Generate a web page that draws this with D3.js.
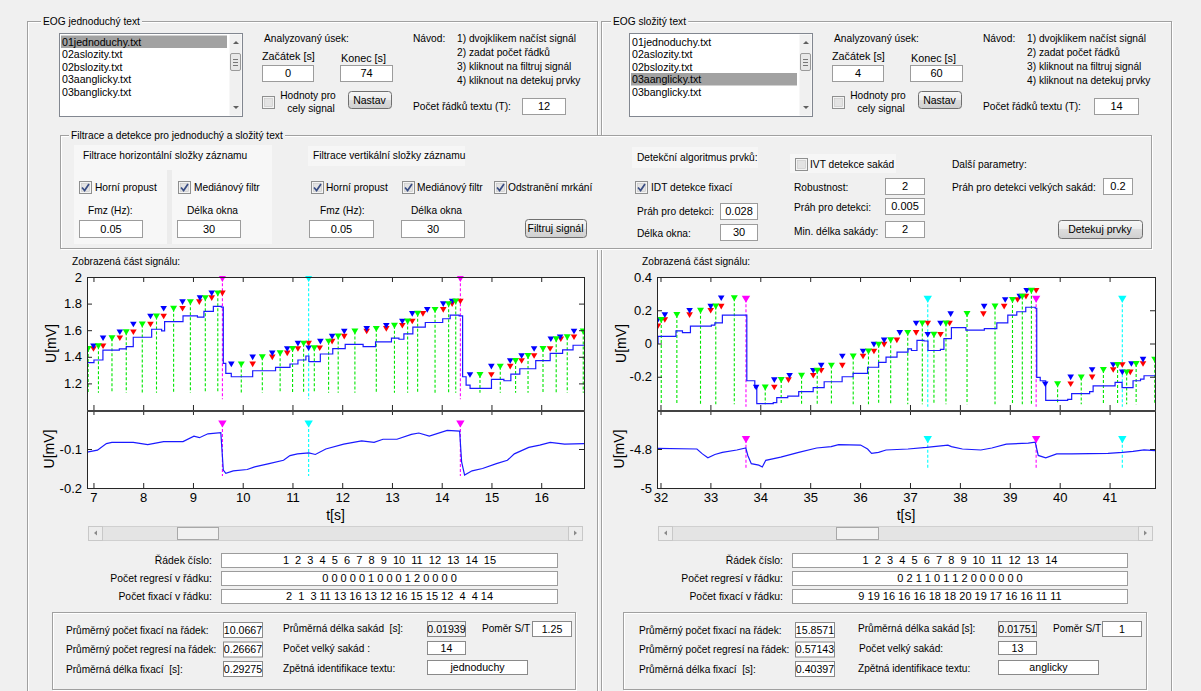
<!DOCTYPE html>
<html><head><meta charset="utf-8">
<script src="https://cdn.jsdelivr.net/npm/d3@7/dist/d3.min.js"></script>
<style>
body{margin:0;background:#f0f0f0;overflow:hidden;}
svg text{font-family:"Liberation Sans",Arial,sans-serif;}
</style></head><body>
<svg id="c" width="1201" height="691"></svg>
<script>
// ================= DATA =================
const listItems = ["01jednoduchy.txt","02aslozity.txt","02bslozity.txt","03aanglicky.txt","03banglicky.txt"];
const leftSelected = 0, rightSelected = 3;
const leftStartEnd = ["0","74"], rightStartEnd = ["4","60"];
const leftLinesT = "12", rightLinesT = "14";
const navodSteps = ["1) dvojklikem načíst signál","2) zadat počet řádků","3) kliknout na filtruj signál","4) kliknout na detekuj prvky"];
const filterValues = {hFmz:"0.05", hWin:"30", vFmz:"0.05", vWin:"30"};
const idtValues = ["0.028","30"];
const ivtValues = ["2","0.005","2"];
const bigSaccadeThr = "0.2";

const leftWindow = [6.87, 16.86];
const rightWindow = [31.93, 41.91];
const leftXTicks = [7,8,9,10,11,12,13,14,15,16];
const rightXTicks = [32,33,34,35,36,37,38,39,40,41];
const leftHDomain = [1, 2];
const leftHTicks = [1.2,1.4,1.6,1.8,2];
const leftHLabels = ["1.2","1.4","1.6","1.8","2"];
const leftVDomain = [-0.2, 0];
const leftVTicks = [-0.2,-0.1];
const leftVLabels = ["-0.2","-0.1"];
const rightHDomain = [-0.4, 0.4];
const rightHTicks = [-0.2,0,0.2,0.4];
const rightHLabels = ["-0.2","0","0.2","0.4"];
const rightVDomain = [-5, -4.6];
const rightVTicks = [-5,-4.8];
const rightVLabels = ["-5","-4.8"];

// horizontal EOG component (step signal) [t, mV]
const leftHSignal = [[6.87,1.356],[7.01,1.376],[7.19,1.45],[7.52,1.46],[7.66,1.477],[7.80,1.547],[8.17,1.607],[8.37,1.595],[8.43,1.665],[8.80,1.708],[9.09,1.698],[9.22,1.741],[9.41,1.779],[9.57,1.774],[9.61,1.351],[9.66,1.275],[9.77,1.25],[10.20,1.295],[10.66,1.321],[10.95,1.346],[11.11,1.376],[11.27,1.406],[11.33,1.364],[11.56,1.421],[11.81,1.462],[12.06,1.494],[12.42,1.477],[12.67,1.512],[12.99,1.54],[13.14,1.532],[13.24,1.572],[13.42,1.623],[13.67,1.658],[14.02,1.686],[14.17,1.713],[14.35,1.708],[14.42,1.25],[14.49,1.187],[14.57,1.162],[15.0,1.23],[15.25,1.22],[15.39,1.27],[15.57,1.31],[15.89,1.371],[16.18,1.426],[16.43,1.452],[16.64,1.487],[16.86,1.487]];
const rightHSignal = [[31.93,0.0],[31.95,0.043],[32.31,0.076],[32.44,0.066],[32.60,0.104],[33.02,0.11],[33.09,0.124],[33.24,0.171],[33.73,-0.224],[33.89,-0.265],[33.93,-0.362],[34.26,-0.356],[34.33,-0.326],[34.55,-0.316],[34.77,-0.289],[35.06,-0.265],[35.28,-0.23],[35.64,-0.2],[35.86,-0.18],[36.15,-0.143],[36.37,-0.113],[36.52,-0.082],[36.74,-0.052],[36.96,-0.032],[37.03,-0.042],[37.14,0.019],[37.28,0.015],[37.36,-0.042],[37.61,-0.035],[37.68,0.029],[37.83,0.096],[38.12,0.08],[38.49,0.09],[38.74,0.124],[38.96,0.171],[39.14,0.191],[39.32,0.218],[39.51,0.212],[39.54,-0.204],[39.61,-0.224],[39.72,-0.342],[40.16,-0.336],[40.24,-0.301],[40.60,-0.289],[40.67,-0.255],[41.11,-0.234],[41.25,-0.265],[41.47,-0.224],[41.62,-0.214],[41.69,-0.194],[41.91,-0.197]];

// vertical EOG component [t, mV]
const leftVSignal = [[6.87,-0.108],[7.08,-0.103],[7.26,-0.086],[7.37,-0.083],[7.80,-0.083],[8.09,-0.089],[8.41,-0.081],[8.80,-0.081],[9.02,-0.067],[9.13,-0.071],[9.30,-0.061],[9.56,-0.058],[9.61,-0.154],[9.66,-0.1625],[9.81,-0.156],[10.09,-0.1525],[10.24,-0.146],[10.53,-0.1375],[10.82,-0.129],[10.95,-0.117],[11.10,-0.1125],[11.33,-0.110],[11.46,-0.114],[11.67,-0.100],[12.03,-0.0875],[12.39,-0.079],[12.64,-0.083],[12.82,-0.075],[13.10,-0.075],[13.39,-0.0625],[13.54,-0.059],[13.75,-0.0667],[14.11,-0.0525],[14.36,-0.054],[14.40,-0.133],[14.46,-0.1667],[14.61,-0.156],[14.82,-0.150],[15.10,-0.1375],[15.32,-0.129],[15.46,-0.1125],[15.75,-0.096],[15.97,-0.090],[16.18,-0.083],[16.47,-0.0875],[16.86,-0.086]];
const rightVSignal = [[31.93,-4.797],[32.73,-4.80],[32.84,-4.825],[32.95,-4.845],[33.09,-4.828],[33.24,-4.817],[33.53,-4.805],[33.71,-4.795],[33.75,-4.833],[33.82,-4.875],[33.97,-4.883],[34.04,-4.892],[34.11,-4.858],[34.41,-4.842],[34.77,-4.817],[35.13,-4.795],[35.42,-4.788],[35.57,-4.778],[36.01,-4.78],[36.15,-4.80],[36.23,-4.822],[36.37,-4.817],[36.52,-4.805],[36.96,-4.80],[37.33,-4.792],[37.76,-4.78],[37.83,-4.788],[38.05,-4.80],[38.42,-4.805],[38.64,-4.795],[38.93,-4.775],[39.37,-4.77],[39.51,-4.765],[39.57,-4.833],[39.72,-4.845],[39.94,-4.825],[40.24,-4.825],[40.97,-4.822],[41.26,-4.817],[41.47,-4.812],[41.69,-4.805],[41.91,-4.808]];

// fixations (green), saccade ends (red), saccade starts (blue)
const leftFix = [[6.893,1.459],[7.100,1.479],[7.372,1.540],[7.659,1.585],[7.981,1.643],[8.267,1.703],[8.611,1.761],[8.948,1.811],[9.248,1.841],[9.499,1.877],[9.971,1.343],[10.394,1.396],[10.752,1.426],[11.002,1.459],[11.224,1.499],[11.439,1.464],[11.726,1.514],[11.919,1.552],[12.255,1.590],[12.685,1.610],[13.050,1.633],[13.315,1.665],[13.516,1.723],[13.866,1.753],[14.139,1.796],[14.282,1.816],[14.769,1.263],[15.177,1.326],[15.485,1.368],[15.735,1.406],[16.036,1.459],[16.301,1.532],[16.523,1.547],[16.845,1.590]];
const leftSacStart = [[7.000,1.479],[7.193,1.540],[7.530,1.585],[7.802,1.643],[8.146,1.703],[8.411,1.761],[8.790,1.811],[9.141,1.841],[9.377,1.877],[9.771,1.343],[10.200,1.396],[10.594,1.426],[10.895,1.459],[11.110,1.499],[11.325,1.464],[11.561,1.514],[11.797,1.552],[12.041,1.590],[12.492,1.610],[12.886,1.633],[13.208,1.665],[13.408,1.723],[13.709,1.753],[14.031,1.796],[14.210,1.816],[14.568,1.263],[14.998,1.326],[15.377,1.368],[15.606,1.406],[15.857,1.459],[16.193,1.532],[16.380,1.547],[16.659,1.590]];
const leftSacEnd = [[7.000,1.459],[7.193,1.479],[7.530,1.540],[7.802,1.585],[8.146,1.643],[8.411,1.703],[8.790,1.761],[9.127,1.811],[9.377,1.841],[9.592,1.877],[10.200,1.343],[10.594,1.396],[10.895,1.426],[11.110,1.459],[11.325,1.499],[11.547,1.464],[11.797,1.514],[12.041,1.552],[12.492,1.590],[12.886,1.610],[13.208,1.633],[13.408,1.665],[13.623,1.723],[14.031,1.753],[14.210,1.796],[14.375,1.816],[14.998,1.263],[15.377,1.326],[15.606,1.368],[15.857,1.406],[16.179,1.459],[16.394,1.532],[16.659,1.547]];
const rightFix = [[32.015,0.141],[32.328,0.171],[32.802,0.197],[33.108,0.222],[33.479,0.272],[34.099,-0.265],[34.419,-0.220],[34.827,-0.194],[35.141,-0.164],[35.425,-0.133],[35.862,-0.078],[36.168,-0.048],[36.372,-0.007],[36.613,0.019],[36.955,0.064],[37.247,0.120],[37.480,0.053],[37.721,0.120],[38.143,0.177],[38.704,0.222],[39.054,0.262],[39.251,0.282],[39.433,0.317],[39.958,-0.245],[40.432,-0.204],[40.876,-0.159],[41.160,-0.129],[41.342,-0.174],[41.532,-0.123],[41.905,-0.097]];
const rightSacStart = [[31.949,0.141],[32.087,0.171],[32.583,0.197],[33.006,0.222],[33.217,0.272],[33.917,-0.265],[34.281,-0.220],[34.587,-0.194],[35.061,-0.164],[35.221,-0.133],[35.644,-0.078],[36.059,-0.048],[36.278,-0.007],[36.482,0.019],[36.795,0.064],[37.123,0.120],[37.356,0.053],[37.611,0.120],[37.815,0.177],[38.486,0.222],[38.908,0.262],[39.200,0.282],[39.338,0.317],[39.710,-0.245],[40.220,-0.204],[40.650,-0.159],[41.073,-0.129],[41.255,-0.174],[41.437,-0.123],[41.670,-0.097]];
const rightSacEnd = [[31.949,0.104],[32.087,0.141],[32.583,0.171],[33.006,0.197],[33.217,0.222],[34.281,-0.265],[34.565,-0.220],[35.061,-0.194],[35.221,-0.164],[35.644,-0.133],[36.059,-0.078],[36.278,-0.048],[36.482,-0.007],[36.737,0.019],[37.123,0.064],[37.356,0.120],[37.611,0.053],[37.793,0.120],[38.471,0.177],[38.887,0.222],[39.156,0.262],[39.324,0.282],[39.528,0.317],[40.220,-0.245],[40.650,-0.204],[41.073,-0.159],[41.255,-0.129],[41.415,-0.174],[41.670,-0.123]];
const leftStemBase = 1.13, rightStemBase = -0.365;

// line-change (magenta) and other events (cyan)
const leftEventT = [9.592, 11.325, 14.375];
const leftEventKind = ["line","other","line"];
const leftEventLevels = [1.99, 1.08, -0.036, -0.169];   // top marker, top floor, bottom marker, bottom floor
const rightEventT = [33.713, 37.356, 39.528, 41.255];
const rightEventKind = ["line","other","line","other"];
const rightEventLevels = [0.266, -0.38, -4.752, -4.9];

// row tables
const leftRowNo = [1,2,3,4,5,6,7,8,9,10,11,12,13,14,15];
const leftRowRegress = [0,0,0,0,0,1,0,0,0,1,2,0,0,0,0];
const leftRowFix = [2,1,3,11,13,16,13,12,16,15,15,12,4,4,14];
const rightRowNo = [1,2,3,4,5,6,7,8,9,10,11,12,13,14];
const rightRowRegress = [0,2,1,1,0,1,1,2,0,0,0,0,0,0];
const rightRowFix = [9,19,16,16,16,18,18,20,19,17,16,16,11,11];
const leftStats = ["10.0667","0.26667","0.29275","0.01939","1.25","14","jednoduchy"];
const rightStats = ["15.8571","0.57143","0.40397","0.01751","1","13","anglicky"];

// ================= DRAWING =================
const UI = 10.2;
const svg = d3.select("#c");
svg.append("rect").attr("width",1201).attr("height",691).attr("fill","#f0f0f0");

function T(x, y, s, o = {}) {
  const t = svg.append("text").attr("x", x).attr("y", y).attr("dy", "0.35em")
    .attr("font-size", o.size || UI).attr("text-anchor", o.anchor || "start")
    .attr("fill", o.fill || "#000").style("white-space", "pre").text(s);
  return t;
}
function frame(x, y, w, h, title, tx, fill) {
  if (fill) svg.append("rect").attr("x", x).attr("y", y).attr("width", w).attr("height", h).attr("fill", fill);
  svg.append("rect").attr("x", x + 1.5).attr("y", y + 1.5).attr("width", w - 1).attr("height", h - 1).attr("fill", "none").attr("stroke", "#ffffff");
  svg.append("rect").attr("x", x + 0.5).attr("y", y + 0.5).attr("width", w - 1).attr("height", h - 1).attr("fill", "none").attr("stroke", "#a0a0a0");
  if (title) {
    const t = T(tx, y, title);
    const bb = t.node().getBBox();
    svg.insert("rect", () => t.node()).attr("x", bb.x - 2).attr("y", y - 3).attr("width", bb.width + 4).attr("height", 6).attr("fill", "#f0f0f0");
  }
}
function edit(x, y, w, h, s, o = {}) {
  svg.append("rect").attr("x", x + 0.5).attr("y", y + 0.5).attr("width", w).attr("height", h)
    .attr("fill", o.bg || "#fff").attr("stroke", o.stroke || "#9c9c9c");
  T(x + w / 2 + 0.5, y + h / 2 + 0.5, s, {anchor: "middle", size: o.size || 11});
}
const defs = svg.append("defs");
const grad = defs.append("linearGradient").attr("id", "btn").attr("x1", 0).attr("x2", 0).attr("y1", 0).attr("y2", 1);
grad.append("stop").attr("offset", "0").attr("stop-color", "#f7f7f7");
grad.append("stop").attr("offset", "0.5").attr("stop-color", "#ebebeb");
grad.append("stop").attr("offset", "0.5").attr("stop-color", "#dddddd");
grad.append("stop").attr("offset", "1").attr("stop-color", "#cfcfcf");
function button(x, y, w, h, s) {
  svg.append("rect").attr("x", x + 0.5).attr("y", y + 0.5).attr("width", w).attr("height", h).attr("rx", 3)
    .attr("fill", "url(#btn)").attr("stroke", "#707070");
  T(x + w / 2, y + h / 2 + 0.5, s, {anchor: "middle", size: 10.5});
}
function checkbox(x, y, checked) {
  svg.append("rect").attr("x", x + 0.5).attr("y", y + 0.5).attr("width", 12).attr("height", 12).attr("fill", "#f4f4f4").attr("stroke", "#8e8f8f");
  svg.append("rect").attr("x", x + 2.5).attr("y", y + 2.5).attr("width", 8).attr("height", 8).attr("fill", "#e3e3e3").attr("stroke", "#c6c6c6").attr("stroke-width", 0.6);
  if (checked) svg.append("path").attr("d", `M${x + 3},${y + 6.5} l2.6,3 l4.4,-6.5`).attr("fill", "none").attr("stroke", "#394d84").attr("stroke-width", 1.7);
}
function listbox(x, y, w, h, items, sel) {
  svg.append("rect").attr("x", x + 0.5).attr("y", y + 0.5).attr("width", w).attr("height", h).attr("fill", "#fff").attr("stroke", "#828790");
  items.forEach((s, i) => {
    if (i === sel) svg.append("rect").attr("x", x + 2).attr("y", y + 2.5 + 12.5 * i).attr("width", w - 17).attr("height", 12.5).attr("fill", "#a2a2a2");
    T(x + 3, y + 9 + 12.5 * i, s, {size: 10.6});
  });
  const sx = x + w - 13;
  svg.append("rect").attr("x", sx + 0.5).attr("y", y + 1.5).attr("width", 12).attr("height", h - 2).attr("fill", "#f0f0f0");
  svg.append("path").attr("d", `M${sx + 4},${y + 11} l3,-3 l3,3z`).attr("fill", "#606060");
  svg.append("path").attr("d", `M${sx + 4},${y + h - 10} l3,3 l3,-3z`).attr("fill", "#606060");
  svg.append("rect").attr("x", sx + 1.5).attr("y", y + 20.5).attr("width", 10).attr("height", 17).attr("rx", 1.5).attr("fill", "#e8e8e8").attr("stroke", "#9a9a9a");
  [0, 1, 2].forEach(k => svg.append("line").attr("x1", sx + 4).attr("x2", sx + 9).attr("y1", y + 26.5 + 3 * k).attr("y2", y + 26.5 + 3 * k).attr("stroke", "#777"));
}
function scrollbar(x, y, w, h, thumbX, thumbW) {
  svg.append("rect").attr("x", x + 0.5).attr("y", y + 0.5).attr("width", w).attr("height", h).attr("fill", "#e4e4e4").attr("stroke", "#d0d0d0");
  svg.append("rect").attr("x", x + 0.5).attr("y", y + 0.5).attr("width", 14).attr("height", h).attr("fill", "#ececec").attr("stroke", "#c8c8c8");
  svg.append("rect").attr("x", x + w - 13.5).attr("y", y + 0.5).attr("width", 14).attr("height", h).attr("fill", "#ececec").attr("stroke", "#c8c8c8");
  svg.append("path").attr("d", `M${x + 9},${y + h / 2 - 2.5} l-3,2.5 l3,2.5z`).attr("fill", "#8a8a8a");
  svg.append("path").attr("d", `M${x + w - 8},${y + h / 2 - 2.5} l3,2.5 l-3,2.5z`).attr("fill", "#8a8a8a");
  svg.append("rect").attr("x", thumbX + 0.5).attr("y", y + 1.5).attr("width", thumbW).attr("height", h - 2).attr("fill", "#f1f1f1").attr("stroke", "#a8a8a8");
}

// ---- main frames ----
frame(27, 21, 571, 690, "EOG jednoduchý text", 43);
frame(601, 21, 571, 690, "EOG složitý text", 613);

// ---- top panels ----
function topPanel(dx, sel, se, lines, tBoxX, tBoxW) {
  listbox(59 + dx, 33, 183, 83, listItems, sel);
  T(264 + dx, 38, "Analyzovaný úsek:");
  T(262 + dx, 56, "Začátek [s]", {size: 10.8});
  T(341 + dx, 58, "Konec [s]", {size: 10.8});
  edit(262 + dx, 65, 51, 16, se[0]);
  edit(340 + dx, 65, 52, 16, se[1]);
  checkbox(262 + dx, 96, false);
  T(308 + dx, 95, "Hodnoty pro", {anchor: "middle"});
  T(311 + dx, 108, "cely signal", {anchor: "middle"});
  button(348 + dx, 91, 43, 17, "Nastav");
  T(413 + dx, 38, "Návod:");
  navodSteps.forEach((s, i) => T(457 + dx, 38 + 14 * i, s));
  T(413 + dx, 106, "Počet řádků textu (T):");
  edit(tBoxX, 98, tBoxW, 16, lines);
}
topPanel(0, leftSelected, leftStartEnd, leftLinesT, 522, 43);
topPanel(570, rightSelected, rightStartEnd, rightLinesT, 1094, 44);

// ---- filter / detection panel ----
frame(60, 135, 1092, 114, "Filtrace a detekce pro jednoduchý a složitý text", 71, "#f0f0f0");
svg.append("rect").attr("x", 74).attr("y", 145).attr("width", 198).attr("height", 99).attr("fill", "#f7f7f7");
svg.append("rect").attr("x", 167).attr("y", 170).attr("width", 5).attr("height", 74).attr("fill", "#ececec");
svg.append("rect").attr("x", 308).attr("y", 146).attr("width", 157).attr("height", 20).attr("fill", "#f6f6f6");
svg.append("rect").attr("x", 632).attr("y", 147).attr("width", 126).attr("height", 21).attr("fill", "#f6f6f6");
svg.append("rect").attr("x", 790).attr("y", 154).attr("width", 106).attr("height", 19).attr("fill", "#f6f6f6");
T(83, 155, "Filtrace horizontální složky záznamu");
checkbox(79, 181, true); T(95, 187, "Horní propust");
checkbox(178, 181, true); T(194, 187, "Mediánový filtr");
T(88, 210, "Fmz (Hz):"); T(187, 210, "Délka okna");
edit(79, 220, 63, 17, filterValues.hFmz); edit(177, 220, 63, 17, filterValues.hWin);
T(313, 155, "Filtrace vertikální složky záznamu");
checkbox(311, 181, true); T(326, 187, "Horní propust");
checkbox(402, 181, true); T(417, 187, "Mediánový filtr");
checkbox(494, 181, true); T(508, 187, "Odstranění mrkání");
T(320, 210, "Fmz (Hz):"); T(411, 210, "Délka okna");
edit(309, 220, 64, 17, filterValues.vFmz); edit(401, 220, 63, 17, filterValues.vWin);
button(525, 219, 61, 18, "Filtruj signál");
T(637, 157, "Detekční algoritmus prvků:");
checkbox(635, 181, true); T(651, 187, "IDT detekce fixací");
T(637, 211, "Práh pro detekci:"); edit(720, 203, 37, 16, idtValues[0]);
T(637, 233, "Délka okna:"); edit(720, 224, 37, 16, idtValues[1]);
checkbox(795, 158, false); T(810, 164, "IVT detekce sakád");
T(794, 187, "Robustnost:"); edit(885, 178, 39, 16, ivtValues[0]);
T(794, 207, "Práh pro detekci:"); edit(885, 198, 39, 16, ivtValues[1]);
T(794, 231, "Min. délka sakády:"); edit(885, 221, 39, 16, ivtValues[2]);
T(952, 164, "Další parametry:");
T(952, 187, "Práh pro detekci velkých sakád:"); edit(1103, 178, 29, 16, bigSaccadeThr);
button(1058, 220, 84, 18, "Detekuj prvky");

// ---- plots ----
const tri = (cx, cy, s) => `M${cx - s},${cy - s * 0.85}L${cx + s},${cy - s * 0.85}L${cx},${cy + s * 0.85}Z`;
function plot(cfg, id) {
  const yA = 277, yB = 410, yC = 488;
  const x = d3.scaleLinear().domain(cfg.window).range([cfg.x0, cfg.x1]);
  const yt = d3.scaleLinear().domain(cfg.hDomain).range([yB, yA]);
  const yb = d3.scaleLinear().domain(cfg.vDomain).range([yC, yB]);
  T(cfg.x0 - 15, 261, "Zobrazená část signálu:");
  svg.append("rect").attr("x", cfg.x0).attr("y", yA).attr("width", cfg.x1 - cfg.x0).attr("height", yC - yA).attr("fill", "#fff");
  defs.append("clipPath").attr("id", id + "t").append("rect").attr("x", cfg.x0).attr("y", yA - 1).attr("width", cfg.x1 - cfg.x0).attr("height", yB - yA + 1);
  defs.append("clipPath").attr("id", id + "b").append("rect").attr("x", cfg.x0).attr("y", yB).attr("width", cfg.x1 - cfg.x0).attr("height", yC - yB);
  const gt = svg.append("g").attr("clip-path", `url(#${id}t)`);
  const gb = svg.append("g").attr("clip-path", `url(#${id}b)`);
  const evColor = k => k === "line" ? "#ff00ff" : "#00ffff";
  const L = cfg.evLevels;
  gt.selectAll("line.stem").data(cfg.fix).join("line").attr("class", "stem")
    .attr("x1", d => x(d[0])).attr("x2", d => x(d[0])).attr("y1", d => yt(d[1])).attr("y2", yt(cfg.stemBase))
    .attr("stroke", "#00e600").attr("stroke-width", 1.1).attr("stroke-dasharray", "3,2");
  gt.selectAll("line.ev").data(cfg.evT).join("line").attr("class", "ev")
    .attr("x1", d => x(d)).attr("x2", d => x(d)).attr("y1", yt(L[0])).attr("y2", yt(L[1]))
    .attr("stroke", (d, i) => evColor(cfg.evKind[i])).attr("stroke-width", 1.1).attr("stroke-dasharray", "3,2");
  gb.selectAll("line.ev").data(cfg.evT).join("line").attr("class", "ev")
    .attr("x1", d => x(d)).attr("x2", d => x(d)).attr("y1", yb(L[2])).attr("y2", yb(L[3]))
    .attr("stroke", (d, i) => evColor(cfg.evKind[i])).attr("stroke-width", 1.1).attr("stroke-dasharray", "3,2");
  gt.append("path").datum(cfg.hSig).attr("fill", "none").attr("stroke", "#1a1aff").attr("stroke-width", 1.2)
    .attr("d", d3.line().x(d => x(d[0])).y(d => yt(d[1])).curve(d3.curveStepAfter));
  gb.append("path").datum(cfg.vSig).attr("fill", "none").attr("stroke", "#1a1aff").attr("stroke-width", 1.2)
    .attr("d", d3.line().x(d => x(d[0])).y(d => yb(d[1])));
  gt.selectAll("path.r").data(cfg.sacEnd).join("path").attr("class", "r").attr("d", d => tri(x(d[0]), yt(d[1]), 3.3)).attr("fill", "#ff0000");
  gt.selectAll("path.b").data(cfg.sacStart).join("path").attr("class", "b").attr("d", d => tri(x(d[0]), yt(d[1]), 3.3)).attr("fill", "#0000ff");
  gt.selectAll("path.g").data(cfg.fix).join("path").attr("class", "g").attr("d", d => tri(x(d[0]), yt(d[1]), 3.5)).attr("fill", "#00ff00");
  gt.selectAll("path.e").data(cfg.evT).join("path").attr("class", "e").attr("d", d => tri(x(d), yt(L[0]), 4.2)).attr("fill", (d, i) => evColor(cfg.evKind[i]));
  gb.selectAll("path.e").data(cfg.evT).join("path").attr("class", "e").attr("d", d => tri(x(d), yb(L[2]), 4.2)).attr("fill", (d, i) => evColor(cfg.evKind[i]));
  const ax = (g) => { g.select(".domain").remove(); g.selectAll(".tick line").attr("stroke", "#262626"); g.selectAll("text").attr("font-size", 13).attr("fill", "#000"); };
  svg.append("g").attr("transform", `translate(${cfg.x0},0)`).call(d3.axisLeft(yt).tickValues(cfg.hTicks).tickFormat((d, i) => cfg.hLabels[i]).tickSizeInner(-5).tickSizeOuter(0).tickPadding(5)).call(ax);
  svg.append("g").attr("transform", `translate(${cfg.x1},0)`).call(d3.axisRight(yt).tickValues(cfg.hTicks).tickFormat("").tickSizeInner(-5).tickSizeOuter(0)).call(ax);
  svg.append("g").attr("transform", `translate(${cfg.x0},0)`).call(d3.axisLeft(yb).tickValues(cfg.vTicks).tickFormat((d, i) => cfg.vLabels[i]).tickSizeInner(-5).tickSizeOuter(0).tickPadding(5)).call(ax);
  svg.append("g").attr("transform", `translate(${cfg.x1},0)`).call(d3.axisRight(yb).tickValues(cfg.vTicks.concat([cfg.vDomain[1]])).tickFormat("").tickSizeInner(-5).tickSizeOuter(0)).call(ax);
  svg.append("g").attr("transform", `translate(0,${yA})`).call(d3.axisTop(x).tickValues(cfg.xTicks).tickFormat("").tickSizeInner(-5).tickSizeOuter(0)).call(ax);
  svg.append("g").attr("transform", `translate(0,${yB})`).call(d3.axisBottom(x).tickValues(cfg.xTicks).tickFormat("").tickSizeInner(-5).tickSizeOuter(0)).call(ax);
  svg.append("g").attr("transform", `translate(0,${yB})`).call(d3.axisTop(x).tickValues(cfg.xTicks).tickFormat("").tickSizeInner(-5).tickSizeOuter(0)).call(ax);
  svg.append("g").attr("transform", `translate(0,${yC})`).call(d3.axisBottom(x).tickValues(cfg.xTicks).tickFormat(d => String(d)).tickSizeInner(-5).tickSizeOuter(0).tickPadding(5)).call(ax);
  svg.append("rect").attr("x", cfg.x0 + 0.5).attr("y", yA + 0.5).attr("width", cfg.x1 - cfg.x0).attr("height", yB - yA).attr("fill", "none").attr("stroke", "#262626");
  svg.append("rect").attr("x", cfg.x0 + 0.5).attr("y", yB + 1.5).attr("width", cfg.x1 - cfg.x0).attr("height", yC - yB - 1).attr("fill", "none").attr("stroke", "#262626");
  svg.append("line").attr("x1", cfg.x0).attr("x2", cfg.x1 + 1).attr("y1", yB + 1).attr("y2", yB + 1).attr("stroke", "#606060").attr("stroke-width", 1);
  T(cfg.x0 + (cfg.x1 - cfg.x0) / 2, 515, "t[s]", {anchor: "middle", size: 14});
  svg.append("text").attr("transform", `translate(${cfg.x0 - 36},${(yA + yB) / 2}) rotate(-90)`).attr("dy", "0.35em").attr("text-anchor", "middle").attr("font-size", 14).text("U[mV]");
  svg.append("text").attr("transform", `translate(${cfg.x0 - 38},${(yB + yC) / 2}) rotate(-90)`).attr("dy", "0.35em").attr("text-anchor", "middle").attr("font-size", 14).text("U[mV]");
}
plot({x0: 87, x1: 584, window: leftWindow, hDomain: leftHDomain, vDomain: leftVDomain,
  xTicks: leftXTicks, hTicks: leftHTicks, hLabels: leftHLabels, vTicks: leftVTicks, vLabels: leftVLabels,
  hSig: leftHSignal, vSig: leftVSignal, fix: leftFix, sacStart: leftSacStart, sacEnd: leftSacEnd,
  stemBase: leftStemBase, evT: leftEventT, evKind: leftEventKind, evLevels: leftEventLevels}, "L");
plot({x0: 657, x1: 1155, window: rightWindow, hDomain: rightHDomain, vDomain: rightVDomain,
  xTicks: rightXTicks, hTicks: rightHTicks, hLabels: rightHLabels, vTicks: rightVTicks, vLabels: rightVLabels,
  hSig: rightHSignal, vSig: rightVSignal, fix: rightFix, sacStart: rightSacStart, sacEnd: rightSacEnd,
  stemBase: rightStemBase, evT: rightEventT, evKind: rightEventKind, evLevels: rightEventLevels}, "R");

scrollbar(88, 526, 494, 14, 177, 41);
scrollbar(658, 526, 494, 14, 836, 42);

// ---- row tables ----
const pad2 = a => a.map(v => String(v).padStart(2, " ")).join(" ");
function rows(lx, bx, bw, no, reg, fix) {
  const lab = ["Řádek číslo:", "Počet regresí v řádku:", "Počet fixací v řádku:"];
  const vals = [no.join("  "), reg.join(" "), pad2(fix).trim()];
  lab.forEach((s, i) => {
    const y = 553 + 18 * i;
    T(lx, y + 7, s, {anchor: "end", size: 10.4});
    edit(bx, y, bw, 14, vals[i]);
  });
}
rows(212, 221, 336, leftRowNo, leftRowRegress, leftRowFix);
rows(783, 792, 335, rightRowNo, rightRowRegress, rightRowFix);

// ---- stats ----
function stats(dx, s, fx, fw, sx, rx, labels2) {
  frame(52 + dx, 612, 524, 78, null);
  const L1 = ["Průměrný počet fixací na řádek:", "Průměrný počet regresí na řádek:", "Průměrná délka fixací  [s]:"];
  const SS = 10.1;
  L1.forEach((t, i) => {
    T(66 + dx + (dx ? 2 : 0), 630 + 19.5 * i, t, {size: SS});
    edit(fx, 622 + 19.5 * i, fw, 15, s[i], {stroke: "#8a8a8a", size: 10.6});
  });
  T(283 + dx + (dx ? 4 : 0), 628, labels2[0], {size: SS});
  edit(sx, 621, 38, 15, s[3], {bg: "#f3f3f3", stroke: "#8a8a8a", size: 10.6});
  T(482 + dx, 628, "Poměr S/T", {size: SS});
  edit(rx, 621, 39, 15, s[4], {stroke: "#8a8a8a", size: 10.6});
  T(283 + dx + (dx ? 5 : 0), 648, labels2[1], {size: SS});
  edit(sx, 641, 38, 13, s[5], {stroke: "#8a8a8a", size: 10.6});
  T(283 + dx + (dx ? 4 : 0), 668, "Zpětná identifikace textu:", {size: SS});
  edit(sx, 660, 100, 14, s[6], {stroke: "#8a8a8a", size: 10.6});
}
stats(0, leftStats, 223, 39, 427, 532, ["Průměrná délka sakád  [s]:", "Počet velký sakád :"]);
stats(571, rightStats, 795, 39, 998, 1102, ["Průměrná délka sakád [s]:", "Počet velký sakád:"]);
</script></body></html>
